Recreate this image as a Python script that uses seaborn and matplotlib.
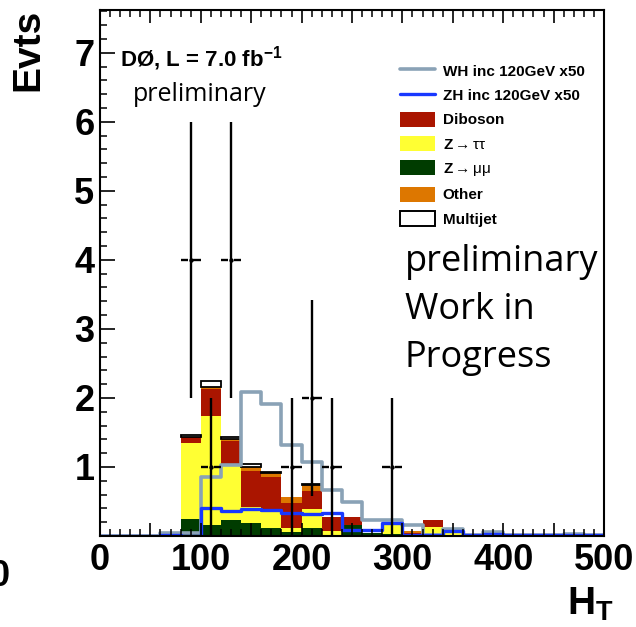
import numpy as np
import pandas as pd
import matplotlib
matplotlib.use("Agg")
import matplotlib.pyplot as plt
from matplotlib.ticker import MultipleLocator, FuncFormatter
from matplotlib.lines import Line2D
from matplotlib.patches import Patch
import seaborn as sns

# H_T binning: 25 bins of 20 GeV
bin_edges = list(range(0, 520, 20))
bin_centers = [e + 10 for e in bin_edges[:-1]]

# expected background yields per bin (stacked)
zmumu    = [0, 0, 0, 0, 0.25, 0.16, 0.23, 0.19, 0.11, 0.06, 0.12, 0.02, 0.16, 0.04, 0.03, 0.02, 0.03, 0.02, 0, 0, 0, 0, 0, 0, 0]
ztautau  = [0, 0, 0, 0, 1.10, 1.58, 0.81, 0.23, 0.25, 0.05, 0.27, 0.05, 0.00, 0.01, 0.13, 0.01, 0.10, 0.03, 0, 0, 0, 0, 0, 0, 0]
diboson  = [0, 0, 0, 0, 0.08, 0.39, 0.33, 0.52, 0.49, 0.37, 0.26, 0.20, 0.11, 0.00, 0.00, 0.02, 0.10, 0.03, 0.02, 0, 0, 0, 0, 0, 0]
other    = [0, 0, 0, 0, 0.01, 0.03, 0.04, 0.06, 0.06, 0.09, 0.09, 0.01, 0.00, 0.00, 0.00, 0.02, 0.00, 0.01, 0, 0, 0, 0, 0, 0, 0]
multijet = [0, 0, 0, 0, 0.02, 0.08, 0.03, 0.05, 0.02, 0.00, 0.01, 0, 0, 0, 0, 0, 0, 0, 0, 0, 0, 0, 0, 0, 0]

# signal templates scaled by 50
wh_x50 = [0, 0, 0, 0.04, 0.04, 0.85, 1.03, 2.08, 1.91, 1.32, 1.07, 0.67, 0.49, 0.23, 0.23, 0.16, 0.02, 0.10, 0.01, 0.06, 0.01, 0.01, 0.01, 0.03, 0.01]
zh_x50 = [0, 0, 0, 0.02, 0.00, 0.40, 0.36, 0.39, 0.37, 0.33, 0.32, 0.33, 0.08, 0.08, 0.19, 0.01, 0.01, 0.07, 0.01, 0.03, 0.01, 0.01, 0.01, 0.01, 0.01]

# observed events
data_ht = [90, 110, 130, 190, 210, 230, 290]
data_n = [4, 1, 4, 1, 2, 1, 1]

# stacking order: first entry ends up on top
stack_names = ["Multijet", "Other", "Diboson", "Ztautau", "Zmumu"]
stack_values = [multijet, other, diboson, ztautau, zmumu]
stack_colors = {"Multijet": "#ffffff", "Other": "#dd7700", "Diboson": "#aa1500",
                "Ztautau": "#ffff33", "Zmumu": "#003c00"}
wh_color = "#8aa2b6"
zh_color = "#1838ff"

sns.set_style("ticks")
plt.rcParams["font.family"] = ["Liberation Sans", "DejaVu Sans"]
plt.rcParams["mathtext.fontset"] = "custom"
plt.rcParams["mathtext.rm"] = "Liberation Sans"
plt.rcParams["mathtext.bf"] = "Liberation Sans:bold"
plt.rcParams["mathtext.it"] = "Liberation Sans:italic"
for key in ["text.color", "axes.labelcolor", "xtick.color", "ytick.color", "axes.edgecolor"]:
    plt.rcParams[key] = "black"

W, H = 636, 627
fig = plt.figure(figsize=(W / 100, H / 100), dpi=100)
ax = fig.add_axes([100 / W, (H - 536) / H, 504 / W, 526 / H])

bkg = pd.concat(
    [pd.DataFrame({"ht": bin_centers, "w": vals, "process": name})
     for name, vals in zip(stack_names, stack_values)],
    ignore_index=True,
)
sns.histplot(data=bkg, x="ht", weights="w", hue="process", hue_order=stack_names,
             palette=stack_colors, multiple="stack", bins=bin_edges, element="bars",
             alpha=1, linewidth=0, legend=False, ax=ax)

# outline the multijet contribution
for p in ax.patches:
    fc = p.get_facecolor()
    if fc[0] > 0.99 and fc[1] > 0.99 and fc[2] > 0.99 and p.get_height() > 0:
        p.set_edgecolor("black")
        p.set_linewidth(1.3)

sig = pd.DataFrame({"ht": bin_centers, "wh": wh_x50, "zh": zh_x50})
sns.histplot(data=sig, x="ht", weights="wh", bins=bin_edges, element="step", fill=False,
             color=wh_color, linewidth=2.6, ax=ax)
sns.histplot(data=sig, x="ht", weights="zh", bins=bin_edges, element="step", fill=False,
             color=zh_color, linewidth=2.4, ax=ax)

# data with Poisson errors; horizontal bars leave a small gap around the marker
dx = np.array(data_ht, dtype=float)
dn = np.array(data_n, dtype=float)
ax.errorbar(dx, dn, yerr=np.sqrt(dn), fmt="none", ecolor="black", elinewidth=1.7,
            capsize=0, zorder=5)
gap = 2.6
ax.hlines(dn, dx - 10, dx - gap, colors="black", linewidth=1.7, zorder=5)
ax.hlines(dn, dx + gap, dx + 10, colors="black", linewidth=1.7, zorder=5)
sns.scatterplot(x=dx, y=dn, color="black", s=10, marker="o", linewidth=0, zorder=6, ax=ax)

ax.set_xlim(0, 500)
ax.set_ylim(0, 7.62)
ax.set_xlabel("")
ax.set_ylabel("")
ax.set_axisbelow(False)

for side in ["left", "right", "top", "bottom"]:
    ax.spines[side].set_visible(True)
    ax.spines[side].set_linewidth(1.5)
    ax.spines[side].set_color("black")

ax.xaxis.set_major_locator(MultipleLocator(50))
ax.xaxis.set_minor_locator(MultipleLocator(10))
ax.xaxis.set_major_formatter(FuncFormatter(lambda v, p: f"{int(round(v))}" if int(round(v)) % 100 == 0 else ""))
ax.yaxis.set_major_locator(MultipleLocator(1))
ax.yaxis.set_minor_locator(MultipleLocator(0.2))
ax.yaxis.set_major_formatter(FuncFormatter(lambda v, p: f"{int(round(v))}" if v > 0.5 else ""))

ax.tick_params(axis="x", which="major", direction="in", length=9.5, width=1.2,
               top=True, bottom=True, labelsize=26, pad=5, colors="black")
ax.tick_params(axis="x", which="minor", direction="in", length=5, width=1.1,
               top=True, bottom=True, colors="black")
ax.tick_params(axis="y", which="major", direction="in", length=10.5, width=1.2,
               left=True, right=False, labelsize=26, pad=4, colors="black")
ax.tick_params(axis="y", which="minor", direction="in", length=5, width=1.1,
               left=True, right=False, colors="black")
for lab in ax.get_xticklabels() + ax.get_yticklabels():
    lab.set_fontweight("bold")

# legend
handles = [
    Line2D([], [], color=wh_color, linewidth=2.6),
    Line2D([], [], color=zh_color, linewidth=2.4),
    Patch(facecolor=stack_colors["Diboson"], edgecolor="none"),
    Patch(facecolor=stack_colors["Ztautau"], edgecolor="none"),
    Patch(facecolor=stack_colors["Zmumu"], edgecolor="none"),
    Patch(facecolor=stack_colors["Other"], edgecolor="none"),
    Patch(facecolor="white", edgecolor="black", linewidth=1.4),
]
labels = ["WH inc 120GeV x50", "ZH inc 120GeV x50", "Diboson",
          r"Z$\mathrm{\rightarrow ττ}$", r"Z$\mathrm{\rightarrow μμ}$", "Other", "Multijet"]
leg = ax.legend(handles, labels, loc="upper left", bbox_to_anchor=(400 / W, 1 - 63 / H),
                bbox_transform=fig.transFigure, frameon=False, borderpad=0,
                borderaxespad=0, handlelength=2.3, handleheight=1.15,
                handletextpad=0.5, labelspacing=0.56,
                prop={"family": "Liberation Sans", "weight": "bold", "size": 11})

# annotations
fig.text(120 / W, 1 - 66 / H, r"DØ, L = 7.0 fb$^{\mathbf{-1}}$", fontsize=16,
         fontweight="bold", ha="left", va="baseline")
fig.text(133 / W, 1 - 101 / H, "preliminary", fontsize=18, family="Open Sans",
         ha="left", va="baseline")
fig.text(405 / W, 1 - 244 / H, "preliminary\nWork in\nProgress", fontsize=26,
         family="Open Sans", ha="left", va="top", linespacing=1.45)

fig.text(28 / W, 1 - 50 / H, "Evts", fontsize=28, fontweight="bold", rotation=90,
         ha="center", va="center")
fig.text(590 / W, 1 - 615 / H, r"H$_{\mathbf{T}}$", fontsize=28, fontweight="bold",
         ha="center", va="baseline")
fig.text(10 / W, 1 - 586 / H, "0", fontsize=26, fontweight="bold", ha="right",
         va="baseline")

fig.savefig("out.png", dpi=100)
